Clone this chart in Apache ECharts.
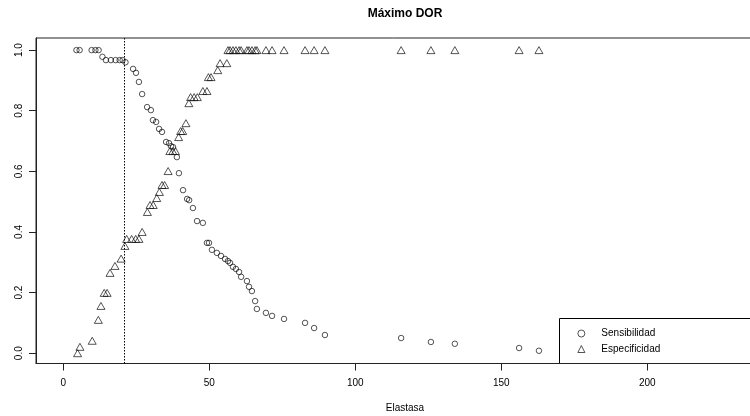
<!DOCTYPE html>
<html>
<head>
<meta charset="utf-8">
<script src="https://cdn.jsdelivr.net/npm/echarts@6/dist/echarts.min.js"></script>
<style>
  html, body { margin: 0; padding: 0; background: #fff; }
  #chart { width: 750px; height: 416px; }
</style>
</head>
<body>
<div id="chart"></div>
<script>
// Sensitivity by Elastasa cutoff
const sensX = [4.5, 5.6, 9.7, 11.0, 12.1, 13.4, 14.6, 16.3, 17.9, 19.3, 20.3, 21.3,
  23.9, 24.9, 25.9, 27.0, 28.7, 30.0, 30.7, 31.8, 32.8, 33.8, 35.2, 36.2, 36.9, 37.6,
  38.9, 39.6, 41.0, 42.4, 43.1, 44.4, 45.8, 47.8, 49.2, 49.9, 50.9, 52.6, 54.0, 55.4,
  56.4, 57.1, 58.1, 59.1, 60.2, 60.9, 62.9, 63.6, 64.6, 65.7, 66.3, 69.4, 71.5, 75.6,
  82.8, 85.9, 89.6, 115.7, 125.9, 134.1, 156.1, 162.9];
const sensY = [1.0, 1.0, 1.0, 1.0, 1.0, 0.978, 0.967, 0.967, 0.967, 0.967, 0.967, 0.96,
  0.938, 0.925, 0.895, 0.855, 0.812, 0.802, 0.769, 0.763, 0.74, 0.73, 0.697, 0.693, 0.683, 0.68,
  0.647, 0.594, 0.538, 0.509, 0.505, 0.479, 0.436, 0.43, 0.364, 0.364, 0.341, 0.331, 0.321, 0.311,
  0.304, 0.298, 0.285, 0.278, 0.268, 0.252, 0.238, 0.219, 0.205, 0.172, 0.146, 0.133, 0.123, 0.113,
  0.1, 0.083, 0.06, 0.05, 0.037, 0.031, 0.017, 0.008];

// Specificity by Elastasa cutoff
const specX = [4.9, 5.7, 9.9, 12.0, 12.9, 14.0, 15.0, 16.0, 17.7, 19.8, 21.1, 21.7,
  23.4, 24.8, 25.9, 27.0, 28.8, 29.7, 30.8, 32.0, 32.9, 33.8, 34.7, 35.9, 36.5, 37.5,
  38.4, 39.5, 40.2, 40.9, 42.0, 43.0, 43.6, 44.8, 45.9, 47.8, 49.2, 49.7, 50.6, 52.9,
  53.7, 56.0, 56.4, 57.1, 58.1, 59.1, 60.2, 60.9, 62.9, 63.6, 64.6, 65.7, 66.3, 69.4,
  71.5, 75.6, 82.8, 85.9, 89.6, 115.7, 125.9, 134.1, 156.1, 162.9];
const specY = [0.0, 0.021, 0.041, 0.11, 0.156, 0.199, 0.199, 0.265, 0.288, 0.312, 0.354, 0.377,
  0.377, 0.377, 0.377, 0.4, 0.466, 0.489, 0.489, 0.512, 0.532, 0.555, 0.555, 0.601, 0.667, 0.667,
  0.667, 0.713, 0.733, 0.733, 0.759, 0.825, 0.845, 0.845, 0.845, 0.865, 0.865, 0.911, 0.911, 0.934,
  0.957, 0.957, 1.0, 1.0, 1.0, 1.0, 1.0, 1.0, 1.0, 1.0, 1.0, 1.0, 1.0, 1.0,
  1.0, 1.0, 1.0, 1.0, 1.0, 1.0, 1.0, 1.0, 1.0, 1.0];

const cutoffMaxDOR = 20.9;
const xTicks = [0, 50, 100, 150, 200];
const yTicks = [0, 0.2, 0.4, 0.6, 0.8, 1.0];

const FONT = "'Liberation Sans', Arial, sans-serif";
const INK = '#000';
const FRAME = '#222';

const zip = (xs, ys) => xs.map((x, i) => [x, ys[i]]);

const chart = echarts.init(document.getElementById('chart'), null, { renderer: 'canvas' });

chart.setOption({
  animation: false,
  backgroundColor: '#fff',
  title: {
    text: 'Máximo DOR',
    left: 405,
    top: 8,
    padding: 0,
    textAlign: 'center',
    textStyle: { fontFamily: FONT, fontSize: 12, fontWeight: 'bold', color: INK }
  },
  grid: {
    left: 36, top: 38, width: 738, height: 325.5,
    show: true, borderColor: FRAME, borderWidth: 1,
    backgroundColor: 'transparent',
    outerBoundsMode: 'none'
  },
  xAxis: {
    type: 'value',
    min: -9.35, max: 243.4,
    name: 'Elastasa',
    nameLocation: 'middle',
    nameGap: 40,
    nameTextStyle: { fontFamily: FONT, fontSize: 10, color: INK },
    axisLine: { show: true, onZero: false, lineStyle: { color: FRAME, width: 1 } },
    axisTick: { show: true, length: 7, customValues: xTicks, lineStyle: { color: FRAME, width: 1 } },
    axisLabel: { show: true, customValues: xTicks, margin: 15, fontFamily: FONT, fontSize: 10, color: INK },
    splitLine: { show: false }
  },
  yAxis: {
    type: 'value',
    min: -0.034, max: 1.04,
    axisLine: { show: true, onZero: false, lineStyle: { color: FRAME, width: 1 } },
    axisTick: { show: true, length: 7, customValues: yTicks, lineStyle: { color: FRAME, width: 1 } },
    axisLabel: {
      show: true, customValues: yTicks, rotate: 90, margin: 12,
      fontFamily: FONT, fontSize: 10, color: INK,
      formatter: v => v.toFixed(1)
    },
    splitLine: { show: false }
  },
  legend: {
    orient: 'vertical',
    left: 577.4, top: 326.5,
    padding: 0,
    itemGap: 1.5,
    itemWidth: 7, itemHeight: 7,
    itemStyle: { color: 'transparent', borderColor: '#111', borderWidth: 0.9 },
    textStyle: { fontFamily: FONT, fontSize: 10, color: INK, lineHeight: 14, padding: [0, 0, 0, 11.5] },
    data: [
      { name: 'Sensibilidad', icon: 'circle' },
      { name: 'Especificidad', icon: 'triangle' }
    ]
  },
  graphic: [{
    type: 'rect',
    shape: { x: 559.5, y: 318.5, width: 220, height: 45 },
    style: { fill: 'transparent', stroke: '#000', lineWidth: 1 },
    silent: true
  }],
  series: [
    {
      name: 'Sensibilidad',
      type: 'scatter',
      symbol: 'circle',
      symbolSize: 5.5,
      itemStyle: { color: 'transparent', borderColor: '#111', borderWidth: 0.9 },
      data: zip(sensX, sensY),
      markLine: {
        silent: true,
        symbol: ['none', 'none'],
        label: { show: false },
        lineStyle: { color: '#000', type: [1.5, 1.5], width: 1 },
        data: [{ xAxis: cutoffMaxDOR }]
      }
    },
    {
      name: 'Especificidad',
      type: 'scatter',
      symbol: 'triangle',
      symbolSize: [8, 7],
      itemStyle: { color: 'transparent', borderColor: '#111', borderWidth: 0.9 },
      data: zip(specX, specY)
    }
  ]
});
</script>
</body>
</html>
